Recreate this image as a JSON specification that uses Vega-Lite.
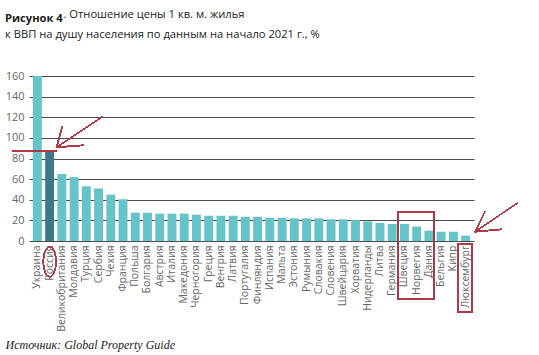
{
  "$schema": "https://vega.github.io/schema/vega-lite/v6.json",
  "width": 445,
  "height": 165,
  "autosize": {"type": "none"},
  "padding": {"left": 29, "top": 76, "right": 65, "bottom": 114},
  "background": "white",
  "title": {
    "text": "Рисунок 4",
    "subtitle": "к ВВП на душу населения по данным на начало 2021 г., %",
    "anchor": "start",
    "frame": "group",
    "dx": -24,
    "offset": -32,
    "font": "Open Sans",
    "fontSize": 11.2,
    "fontWeight": "bold",
    "color": "#222222",
    "subtitleFont": "Open Sans",
    "subtitleFontSize": 11.2,
    "subtitleColor": "#222222",
    "subtitlePadding": 5
  },
  "data": {
    "values": [
      {"country": "Украина", "value": 160, "hl": "no"},
      {"country": "Россия", "value": 87, "hl": "yes"},
      {"country": "Великобритания", "value": 65, "hl": "no"},
      {"country": "Молдавия", "value": 62, "hl": "no"},
      {"country": "Турция", "value": 53, "hl": "no"},
      {"country": "Сербия", "value": 51, "hl": "no"},
      {"country": "Чехия", "value": 45, "hl": "no"},
      {"country": "Франция", "value": 40.5, "hl": "no"},
      {"country": "Польша", "value": 27.5, "hl": "no"},
      {"country": "Болгария", "value": 27.5, "hl": "no"},
      {"country": "Австрия", "value": 26.5, "hl": "no"},
      {"country": "Италия", "value": 26.5, "hl": "no"},
      {"country": "Македония", "value": 26.5, "hl": "no"},
      {"country": "Черногория", "value": 25.5, "hl": "no"},
      {"country": "Греция", "value": 24.5, "hl": "no"},
      {"country": "Венгрия", "value": 24.5, "hl": "no"},
      {"country": "Латвия", "value": 24.5, "hl": "no"},
      {"country": "Португалия", "value": 23.5, "hl": "no"},
      {"country": "Финляндия", "value": 23.5, "hl": "no"},
      {"country": "Испания", "value": 22.5, "hl": "no"},
      {"country": "Мальта", "value": 22.5, "hl": "no"},
      {"country": "Эстония", "value": 22, "hl": "no"},
      {"country": "Румыния", "value": 22, "hl": "no"},
      {"country": "Словакия", "value": 22, "hl": "no"},
      {"country": "Словения", "value": 21, "hl": "no"},
      {"country": "Швейцария", "value": 21, "hl": "no"},
      {"country": "Хорватия", "value": 20.3, "hl": "no"},
      {"country": "Нидерланды", "value": 19, "hl": "no"},
      {"country": "Литва", "value": 17.5, "hl": "no"},
      {"country": "Германия", "value": 16.5, "hl": "no"},
      {"country": "Швеция", "value": 16.5, "hl": "no"},
      {"country": "Норвегия", "value": 14, "hl": "no"},
      {"country": "Дания", "value": 10, "hl": "no"},
      {"country": "Бельгия", "value": 9, "hl": "no"},
      {"country": "Кипр", "value": 9, "hl": "no"},
      {"country": "Люксембург", "value": 5.2, "hl": "no"}
    ]
  },
  "layer": [
    {
      "mark": {"type": "bar"},
      "encoding": {
        "x": {
          "field": "country",
          "type": "nominal",
          "sort": null,
          "scale": {"paddingInner": 0.27, "paddingOuter": 0.32},
          "axis": {
            "title": "Источник: Global Property Guide",
            "titleFont": "Liberation Serif",
            "titleFontStyle": "italic",
            "titleFontWeight": "normal",
            "titleFontSize": 12,
            "titleColor": "#222222",
            "titleAlign": "left",
            "titleBaseline": "alphabetic",
            "titleX": -24,
            "titleY": 107,
            "labelAngle": -90,
            "labelFont": "Open Sans",
            "labelFontSize": 10.5,
            "labelColor": "#666666",
            "labelPadding": 4,
            "ticks": false,
            "domain": false,
            "grid": false
          }
        },
        "y": {
          "field": "value",
          "type": "quantitative",
          "scale": {"domain": [0, 160], "nice": false},
          "axis": {
            "values": [0, 20, 40, 60, 80, 100, 120, 140, 160],
            "title": ". Отношение цены 1 кв. м. жилья",
            "titleAngle": 0,
            "titleAlign": "left",
            "titleBaseline": "alphabetic",
            "titleX": 34,
            "titleY": -59,
            "titleFont": "Open Sans",
            "titleFontSize": 11.2,
            "titleFontWeight": "normal",
            "titleColor": "#222222",
            "labelFont": "Open Sans",
            "labelFontSize": 11,
            "labelColor": "#666666",
            "labelPadding": 5,
            "ticks": false,
            "domain": false,
            "grid": true,
            "gridColor": "#4d4d4d",
            "gridWidth": 1.2
          }
        },
        "color": {
          "field": "hl",
          "type": "nominal",
          "scale": {"domain": ["no", "yes"], "range": ["#66c3c7", "#3d7788"]},
          "legend": null
        }
      }
    },
    {
      "layer": [
        {
          "mark": {"type": "rule", "color": "#b03a48", "strokeWidth": 1},
          "encoding": {
            "x": {"datum": -1.39, "type": "quantitative", "scale": {"domain": [0, 36.36], "nice": false, "zero": false}, "axis": null},
            "x2": {"datum": 2.29},
            "y": {"datum": 87.6, "type": "quantitative", "scale": {"domain": [0, 160], "nice": false}, "axis": null},
            "y2": {"datum": 87.6}
          }
        },
        {
          "mark": {"type": "rule", "color": "#b03a48", "strokeWidth": 1},
          "encoding": {
            "x": {"datum": 6.02, "type": "quantitative", "scale": {"domain": [0, 36.36], "nice": false, "zero": false}, "axis": null},
            "x2": {"datum": 2.25},
            "y": {"datum": 120.6, "type": "quantitative", "scale": {"domain": [0, 160], "nice": false}, "axis": null},
            "y2": {"datum": 90.9}
          }
        },
        {
          "mark": {"type": "rule", "color": "#b03a48", "strokeWidth": 1},
          "encoding": {
            "x": {"datum": 2.72, "type": "quantitative", "scale": {"domain": [0, 36.36], "nice": false, "zero": false}, "axis": null},
            "x2": {"datum": 2.25},
            "y": {"datum": 110.9, "type": "quantitative", "scale": {"domain": [0, 160], "nice": false}, "axis": null},
            "y2": {"datum": 90.9}
          }
        },
        {
          "mark": {"type": "rule", "color": "#b03a48", "strokeWidth": 1},
          "encoding": {
            "x": {"datum": 4.44, "type": "quantitative", "scale": {"domain": [0, 36.36], "nice": false, "zero": false}, "axis": null},
            "x2": {"datum": 2.25},
            "y": {"datum": 92.8, "type": "quantitative", "scale": {"domain": [0, 160], "nice": false}, "axis": null},
            "y2": {"datum": 90.9}
          }
        },
        {
          "mark": {"type": "rule", "color": "#b03a48", "strokeWidth": 1},
          "encoding": {
            "x": {"datum": 39.89, "type": "quantitative", "scale": {"domain": [0, 36.36], "nice": false, "zero": false}, "axis": null},
            "x2": {"datum": 36.44},
            "y": {"datum": 36.6, "type": "quantitative", "scale": {"domain": [0, 160], "nice": false}, "axis": null},
            "y2": {"datum": 9.0}
          }
        },
        {
          "mark": {"type": "rule", "color": "#b03a48", "strokeWidth": 1},
          "encoding": {
            "x": {"datum": 37.25, "type": "quantitative", "scale": {"domain": [0, 36.36], "nice": false, "zero": false}, "axis": null},
            "x2": {"datum": 36.44},
            "y": {"datum": 28.4, "type": "quantitative", "scale": {"domain": [0, 160], "nice": false}, "axis": null},
            "y2": {"datum": 9.0}
          }
        },
        {
          "mark": {"type": "rule", "color": "#b03a48", "strokeWidth": 1},
          "encoding": {
            "x": {"datum": 38.6, "type": "quantitative", "scale": {"domain": [0, 36.36], "nice": false, "zero": false}, "axis": null},
            "x2": {"datum": 36.44},
            "y": {"datum": 11.3, "type": "quantitative", "scale": {"domain": [0, 160], "nice": false}, "axis": null},
            "y2": {"datum": 9.0}
          }
        },
        {
          "mark": {"type": "rect", "fill": null, "fillOpacity": 0, "stroke": "#b03a48", "strokeWidth": 1.2},
          "encoding": {
            "x": {"datum": 30.17, "type": "quantitative", "scale": {"domain": [0, 36.36], "nice": false, "zero": false}, "axis": null},
            "x2": {"datum": 33.12},
            "y": {"datum": 27.8, "type": "quantitative", "scale": {"domain": [0, 160], "nice": false}, "axis": null},
            "y2": {"datum": -56.3}
          }
        },
        {
          "mark": {"type": "rect", "fill": null, "fillOpacity": 0, "stroke": "#b03a48", "strokeWidth": 1.2},
          "encoding": {
            "x": {"datum": 35.07, "type": "quantitative", "scale": {"domain": [0, 36.36], "nice": false, "zero": false}, "axis": null},
            "x2": {"datum": 36.2},
            "y": {"datum": -3.2, "type": "quantitative", "scale": {"domain": [0, 160], "nice": false}, "axis": null},
            "y2": {"datum": -68.6}
          }
        },
        {
          "mark": {"type": "point", "filled": false, "stroke": "#b03a48", "strokeWidth": 1, "opacity": 1, "size": 900, "shape": "M0,-1A0.42,1,0,1,1,0,1A0.42,1,0,1,1,0,-1Z"},
          "encoding": {
            "x": {"datum": 1.69, "type": "quantitative", "scale": {"domain": [0, 36.36], "nice": false, "zero": false}, "axis": null},
            "y": {"datum": -20.1, "type": "quantitative", "scale": {"domain": [0, 160], "nice": false}, "axis": null}
          }
        }
      ]
    }
  ],
  "resolve": {"scale": {"x": "independent"}, "axis": {"y": "independent"}},
  "config": {"view": {"stroke": null}}
}
